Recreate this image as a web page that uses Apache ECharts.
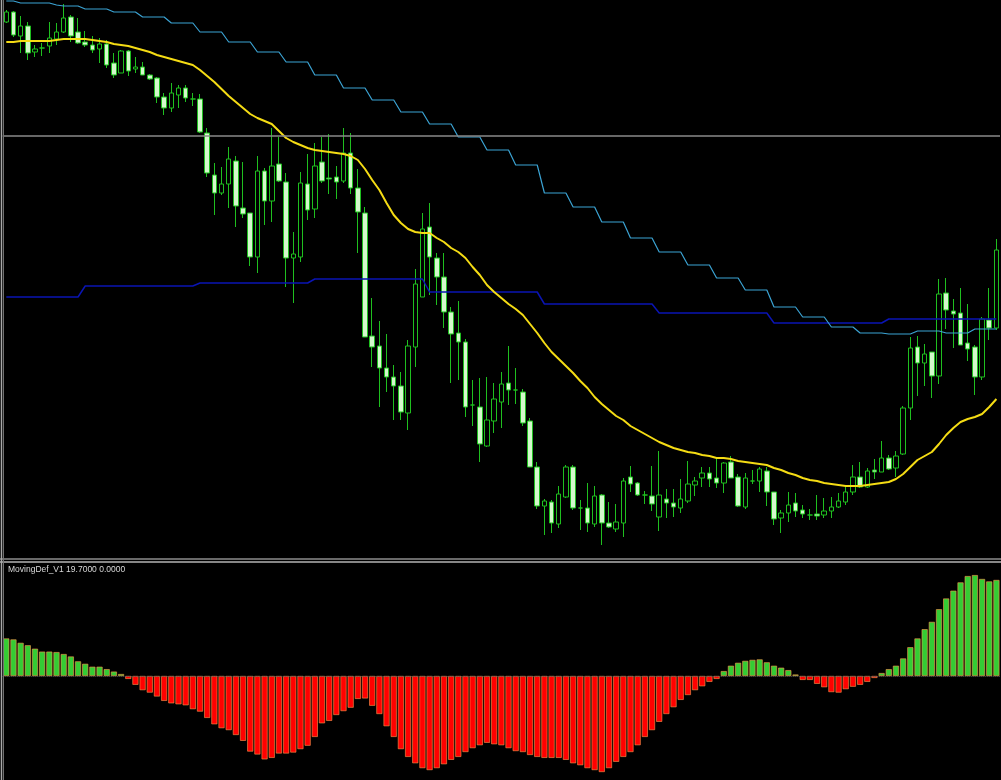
<!DOCTYPE html>
<html><head><meta charset="utf-8">
<script src="https://cdn.jsdelivr.net/npm/echarts/dist/echarts.min.js"></script>
<style>html,body{margin:0;padding:0;background:#000;}#c{width:1001px;height:780px;}</style>
</head><body><div id="c"></div>
<script>
// price values (chart units)
const opens = [538,548,524,534,508,512,514,521,528,543,
528,518,515,511,516,497,487,509,491,493,
485,482,463,452,465,472,461,461,427,385,
367,376,399,352,347,303,389,359,396,378,
302,303,376,351,398,382,383,379,407,372,
347,224,214,192,183,174,147,213,263,333,
302,283,248,227,218,155,153,114,139,158,
177,170,168,139,93,54,58,36,63,93,
52,52,36,65,37,31,37,83,77,65,
64,43,61,57,52,59,75,82,87,82,
77,98,83,53,79,79,89,68,42,47,
57,50,45,46,45,49,53,58,68,83,
73,90,88,102,92,106,152,213,197,208,
184,267,249,247,217,213,183,240,232];
const closes = [548,525,534,507,511,512,522,528,542,524,
517,515,510,516,495,485,509,489,493,485,
481,463,452,467,472,462,461,428,387,367,
376,401,354,346,303,389,359,394,379,302,
306,377,350,394,379,381,378,407,372,348,
223,213,192,183,174,148,214,276,331,303,
283,248,226,218,153,155,116,140,161,176,
170,170,137,93,54,59,37,66,93,52,
52,37,64,37,33,38,79,76,65,65,
56,65,57,53,61,76,79,87,81,77,
97,82,54,82,79,91,68,41,47,55,
49,46,45,44,49,53,59,68,83,73,
89,88,102,91,104,152,212,197,206,184,
266,250,246,215,211,183,241,232,310];
const lows = [537,523,507,500,503,504,507,515,527,518,
516,513,507,497,492,482,487,484,487,485,
480,457,445,448,452,458,454,427,383,345,
365,352,333,342,294,287,335,338,378,273,
257,298,340,342,377,366,361,377,366,307,
223,193,153,168,140,140,130,193,263,265,
255,232,177,180,143,134,98,113,127,132,
155,156,134,93,51,25,27,32,62,50,
30,28,33,15,32,28,23,68,64,56,
49,29,42,43,47,57,64,73,73,72,
67,82,53,51,76,68,54,35,27,38,
43,42,40,40,42,42,52,55,65,72,
72,81,88,90,83,105,140,164,174,162,
176,231,212,215,199,165,180,220,230];
const highs = [550,549,544,538,515,517,538,537,556,545,
542,529,524,522,520,507,510,510,503,498,
486,483,467,477,475,475,467,466,432,397,
393,413,404,398,347,404,392,432,423,387,
328,388,406,417,423,426,394,432,427,391,
353,262,239,226,195,188,220,291,347,357,
307,307,253,259,221,180,182,183,177,188,
214,192,171,142,98,61,60,74,95,95,
60,77,74,66,58,56,82,94,78,69,
94,109,71,71,81,99,83,93,93,102,
98,104,86,87,90,93,93,68,50,68,
67,55,51,65,62,63,67,73,95,98,
92,101,119,105,109,154,223,224,216,208,
281,282,261,272,256,215,243,272,321];
const maLine = [518,518,519,519,519,519,519,520,521,521,
521,521,520,519,518,516,515,514,512,510,
508,505,503,501,499,497,495,490,484,478,
471,464,458,452,446,442,439,436,429,422,
418,415,412,410,409,408,407,406,404,400,
391,380,370,357,345,337,331,328,327,327,
322,318,312,308,302,293,285,275,268,262,
256,251,245,236,227,217,208,201,194,187,
179,172,163,156,150,144,140,134,130,126,
122,118,115,112,110,108,107,105,104,102,
102,101,99,98,97,96,95,92,90,87,
85,82,80,79,77,76,75,74,74,74,
75,76,77,78,81,86,93,100,104,108,
116,125,132,138,141,143,146,153,161];
const upperLine = [559,559,557,557,557,557,557,555,554,554,
554,551,551,551,551,548,548,548,548,543,
543,543,543,537,537,537,537,528,528,528,
528,518,518,518,518,508,508,508,508,498,
498,498,498,485,485,485,485,472,472,472,
472,460,460,460,460,448,448,448,448,436,
436,436,436,423,423,423,423,410,410,410,
410,395,395,395,395,367,367,367,367,353,
353,353,353,338,338,338,338,322,322,322,
322,308,308,308,308,295,295,295,295,282,
282,282,282,270,270,270,270,253,253,253,
253,243,243,243,243,233,233,233,233,227,
227,227,227,226,226,226,226,229,229,229,
229,227,227,227,227,231,231,231,231];
const levelLine = [263,263,263,263,263,263,263,263,263,263,263,
274,274,274,274,274,274,274,274,274,274,274,274,274,274,274,274,
277,277,277,277,277,277,277,277,277,277,277,277,277,277,277,277,
281,281,281,281,281,281,281,281,281,281,281,281,281,281,281,281,
268,268,268,268,268,268,268,268,268,268,268,268,268,268,268,268,
256,256,256,256,256,256,256,256,256,256,256,256,256,256,256,256,
247,247,247,247,247,247,247,247,247,247,247,247,247,247,247,247,
237,237,237,237,237,237,237,237,237,237,237,237,237,237,237,237,
241,241,241,241,241,241,241,241,241,241,241,241,241,241,241,241];
const hLineLevel = 424;
// indicator (MovingDef_V1)
const histValues = [7.7,7.5,6.8,6.3,5.6,5.0,5.0,4.9,4.5,4.0,
3.0,2.5,1.9,1.9,1.4,0.9,0.4,-0.6,-1.8,-2.9,
-3.4,-4.2,-5.1,-5.6,-5.8,-6.0,-6.8,-7.3,-8.6,-9.9,
-10.7,-11.1,-12.1,-13.3,-15.5,-16.1,-17.1,-16.8,-15.9,-15.9,
-15.7,-15.0,-14.3,-12.5,-9.7,-9.2,-8.0,-7.2,-6.5,-4.7,
-4.6,-6.1,-7.8,-10.3,-12.5,-15.0,-16.6,-17.9,-18.9,-19.3,
-18.9,-18.1,-17.2,-16.6,-15.6,-14.8,-14.2,-13.7,-14.0,-14.2,
-14.8,-15.4,-15.6,-16.2,-16.6,-16.8,-16.8,-16.8,-17.2,-17.9,
-18.3,-18.9,-19.3,-19.7,-18.9,-17.6,-16.6,-15.6,-14.2,-12.5,
-11.1,-9.4,-7.8,-6.4,-4.9,-3.9,-2.9,-2.1,-1.2,-0.6,
1.0,2.1,2.7,3.1,3.3,3.4,2.8,2.1,1.7,1.2,
0.3,-0.8,-0.8,-1.6,-2.3,-3.3,-3.4,-2.7,-2.2,-1.8,
-1.2,-0.4,0.6,1.4,2.1,3.6,5.9,7.7,9.6,11.1,
13.7,15.9,17.5,19.2,20.5,20.7,19.9,19.4,19.7];
const indicatorLabel = 'MovingDef_V1 19.7000 0.0000';
const categories = opens.map((_, i) => String(i + 1));

const candleData = opens.map((o, i) => [o, closes[i], lows[i], highs[i]]);

const chart = echarts.init(document.getElementById('c'), null, {renderer: 'canvas'});
const xBase = {type: 'category', data: categories, boundaryGap: true, show: false};
chart.setOption({
  backgroundColor: '#000000',
  animation: false,
  grid: [
    {left: 2.7, right: 1.0, top: 0, height: 558},
    {left: 2.7, right: 1.0, top: 562, height: 218}
  ],
  xAxis: [Object.assign({gridIndex: 0}, xBase), Object.assign({gridIndex: 1}, xBase)],
  yAxis: [
    {gridIndex: 0, min: 2, max: 560, show: false, splitLine: {show: false}},
    {gridIndex: 1, min: -21.34, max: 23.39, show: false, splitLine: {show: false}}
  ],
  series: [
    {
      type: 'candlestick', xAxisIndex: 0, yAxisIndex: 0, data: candleData,
      barWidth: 5,
      itemStyle: {color: '#000000', color0: '#d4f8cc', borderColor: '#1fbf1f', borderColor0: '#1fbf1f', borderWidth: 1},
      markLine: {silent: true, symbol: 'none', label: {show: false},
        lineStyle: {color: '#8a8a8a', width: 1.5, type: 'solid'},
        data: [{yAxis: hLineLevel}]}
    },
    {type: 'line', xAxisIndex: 0, yAxisIndex: 0, data: levelLine, symbol: 'none',
      lineStyle: {color: '#0a14b4', width: 1.5}, z: 3},
    {type: 'line', xAxisIndex: 0, yAxisIndex: 0, data: upperLine, symbol: 'none',
      lineStyle: {color: '#3ba3d3', width: 1.2}, z: 3},
    {type: 'line', xAxisIndex: 0, yAxisIndex: 0, data: maLine, symbol: 'none', smooth: false,
      lineStyle: {color: '#f5dc14', width: 2}, z: 4},
    {
      type: 'bar', xAxisIndex: 1, yAxisIndex: 1, data: histValues, barWidth: 6,
      itemStyle: {
        color: p => p.value >= 0 ? '#34cc34' : '#ff0000',
        borderColor: p => p.value >= 0 ? '#249a24' : '#d00000',
        borderWidth: 0.6
      },
      markLine: {silent: true, symbol: 'none', label: {show: false},
        lineStyle: {color: '#5a5a5a', width: 1, type: 'dotted'},
        data: [{yAxis: 0}]}
    }
  ],
  graphic: [
    {type: 'line', shape: {x1: 0, y1: 559, x2: 1001, y2: 559}, style: {stroke: '#8c8c8c', lineWidth: 1.5}, z: 100},
    {type: 'line', shape: {x1: 0, y1: 562, x2: 1001, y2: 562}, style: {stroke: '#b4b4b4', lineWidth: 1.5}, z: 100},
    {type: 'line', shape: {x1: 1.5, y1: 0, x2: 1.5, y2: 780}, style: {stroke: '#a8a8a8', lineWidth: 1.5}, z: 100},
    {type: 'line', shape: {x1: 3.5, y1: 0, x2: 3.5, y2: 780}, style: {stroke: '#707070', lineWidth: 1}, z: 100},
    {type: 'text', left: 8, top: 565, z: 100,
      style: {text: indicatorLabel, fill: '#d8d8d8', font: '8.5px "Liberation Sans", Arial, sans-serif'}}
  ]
});
</script>
</body></html>
